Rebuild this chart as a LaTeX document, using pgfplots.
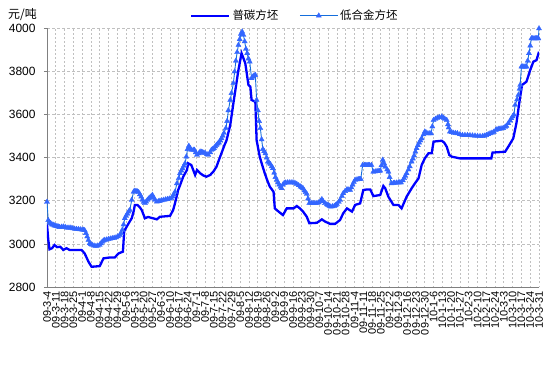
\documentclass[border=0pt]{standalone}
\usepackage{fontspec}
\setmainfont{Liberation Sans}
\newfontfamily\cjk{Noto Sans CJK SC}
\usepackage{pgfplots}
\pgfplotsset{compat=1.18}
\usepackage{pgfplotstable}
\definecolor{pblue}{RGB}{0,0,255}
\definecolor{lline}{RGB}{20,110,220}
\definecolor{lmark}{RGB}{51,102,255}
\definecolor{gridc}{RGB}{192,192,192}
\definecolor{axc}{RGB}{128,128,128}
\pgfplotsset{
  leglineA/.style={legend image code/.code={\draw[##1] (0bp,0bp) -- (38bp,0bp);}},
  leglineB/.style={legend image code/.code={\draw[##1,mark repeat=2,mark phase=2] plot coordinates {(0bp,0bp) (19bp,0bp) (38bp,0bp)};}},
}

\pgfplotstableread{
d v
0 3090
1 3020
2 2975
4 2980
6 2995
8 2985
10.5 2987
13 2972
15.5 2980
18 2972
22 2972
27.5 2972
30 2956
33 2918
35.5 2894
38 2895
42 2897
45 2933
50 2937
54 2937
57 2956
60.5 2964
61.5 3060
63.5 3080
65.5 3100
67.5 3119
69 3150
70 3181
72 3181
74 3170
75.5 3157
78 3119
80.5 3125
84.5 3119
87.5 3114
90 3126
94 3128
98 3130
100.5 3157
102 3189
104.5 3250
106.5 3280
108.5 3312
111.5 3343
112.5 3374
115 3366
118 3320
119.5 3343
122 3328
124.5 3318
127 3312
130 3320
132.5 3335
135 3358
137 3390
139 3421
141.5 3460
143 3480
146 3552
148.5 3653
150.5 3730
152.5 3807
155 3885
156.5 3862
158 3838
160.5 3738
162 3730
163 3668
166 3660
167 3482
169.5 3405
171.5 3365
173.5 3328
175.5 3295
177.5 3266
180.5 3242
181.5 3165
184.5 3150
188 3134
191 3165
196.5 3165
199 3176
201.5 3165
204 3150
207 3126
209 3096
212 3097
215 3098
219 3114
221.5 3104
225.5 3093
229.5 3093
233.5 3111
236 3142
239 3165
243 3150
245.5 3181
249.5 3188
252 3250
255 3253
257.5 3253
259 3235
260 3222
265.5 3227
268 3269
269.5 3258
272 3219
276 3181
280 3181
282.5 3165
286.5 3219
290.5 3258
293 3280
296 3304
298.5 3366
301 3397
304 3421
306.5 3421
308 3475
314.5 3479
316.5 3470
318.5 3451
320.5 3413
322.5 3405
329 3397
340 3397
354 3397
355 3424
360 3426
365 3428
367.5 3451
371.5 3490
374 3560
377 3683
378.5 3738
382 3753
385 3807
387.5 3846
390 3853
392 3892
}\tabP

\pgfplotstableread{
d v
0 3195
1 3110
2 3100
3 3095
4 3090
5 3088
6 3085
7 3084
8 3082
9 3080
10 3078
11.5 3079
13 3080
14.5 3078
16 3075
17.5 3075
19 3075
20.5 3072
22 3070
23.5 3069
25 3068
26.5 3067
28 3066
29 3065
30 3063
31 3050
32 3034
33 3018
34 3003
35 2998
36 2995
37.5 2992
39 2990
40.5 2992
42 2995
43 3002
44 3010
45 3015
46 3018
47.5 3020
49 3022
50.5 3024
52 3026
53.5 3028
55 3030
56.5 3035
58 3041
59 3050
60 3065
61 3090
62 3119
63 3130
64 3140
65 3150
66 3157
67.5 3204
69 3242
70 3246
71 3245
72 3243
73 3240
74 3230
75 3219
76 3205
77 3195
78 3189
79 3196
80 3204
81 3210
82 3215
83 3221
84 3227
85 3215
86 3205
87.5 3196
89 3198
90 3200
91.5 3202
93 3204
94.5 3206
96 3208
97.5 3210
99 3212
100 3220
101 3230
102 3242
103.5 3281
105 3305
106 3328
107 3340
108 3350
109 3362
110 3374
111 3405
112 3440
113 3455
114 3445
115 3436
116.5 3436
117.5 3436
118.5 3425
119.5 3413
121 3420
122 3428
123 3427
124 3425
125 3423
126 3421
127.5 3416
128.5 3413
130 3425
131 3436
132 3440
133 3444
134 3452
135 3459
136 3465
137 3470
138 3480
139 3490
140 3502
141 3515
142.5 3537
143.5 3570
144.5 3620
146 3668
147 3700
148.5 3746
149.5 3800
150.5 3850
151.5 3890
152.5 3923
153.5 3950
154.5 3975
155.5 3985
156.5 3970
157.5 3940
158.5 3905
159.5 3885
160.5 3860
161.5 3846
163 3769
164 3776
165 3782
166 3784
167 3668
168 3620
169 3570
170 3537
171 3485
172 3440
173 3430
174 3420
175 3400
176 3382
177 3376
178 3370
179 3360
180 3351
181 3330
182 3310
183 3297
184 3285
185 3275
186 3265
187 3258
188 3275
189 3282
190 3284
191.5 3285
193 3285
194.5 3285
196 3285
197.5 3283
199 3278
200.5 3272
202 3266
203 3262
204 3258
205 3248
206 3240
207 3232
208 3210
209 3189
210.5 3189
212 3189
213.5 3189
215 3189
216.5 3192
218 3200
219 3207
220 3198
221.5 3189
223 3183
224 3180
225 3176
226 3173
227.5 3174
229 3176
230 3180
231 3185
232.5 3195
233.5 3204
235 3222
236 3235
237.5 3245
239 3253
240 3252
241.5 3250
242.5 3262
243.5 3275
244.5 3287
245.5 3297
247 3299
248 3300
249 3300
250 3301
251.5 3366
253 3366
254 3366
255 3366
256 3366
257 3366
258.5 3366
260 3335
261.5 3336
263 3338
264.5 3339
265.5 3340
266.5 3365
267.5 3390
268.5 3375
269.5 3358
271 3345
272 3335
273 3310
274.5 3281
276 3282
277 3283
278.5 3284
280 3285
281 3285
282 3285
283.5 3295
284.5 3305
285.5 3316
286.5 3328
288 3345
289 3360
290.5 3382
291.5 3396
292.5 3410
293.5 3428
294.5 3444
295.5 3458
296.5 3470
297.5 3480
298.5 3490
300 3508
301 3521
302 3517
303.5 3513
305 3513
306 3513
307 3545
308 3575
309.5 3580
311 3585
312.5 3588
314.5 3591
316 3585
317 3580
318.5 3575
319.5 3555
320 3540
321 3521
322.5 3518
324 3515
325.5 3514
327 3513
329 3509
331 3505
333 3505
335 3505
337 3504
339 3503
341 3502
343 3501
345 3500
347 3500
348.5 3502
350 3505
351.5 3509
353 3513
354.5 3516
356 3520
357.5 3528
358.5 3532
360 3534
361 3535
362.5 3536
363.5 3537
365 3543
366 3548
367.5 3560
369 3572
370 3583
371 3592
372 3600
373 3645
374.5 3670
375.5 3691
376.5 3720
377 3738
378 3823
379 3823
380 3823
381 3823
382 3823
383 3850
384 3885
385 3920
386 3954
387 3954
388 3954
389 3954
390 3954
391 3954
391.5 3954
392 4000
}\tabL

\begin{document}
\begin{tikzpicture}
\useasboundingbox (0,0) rectangle (554bp,369bp);
\begin{axis}[
  at={(47bp,82bp)}, anchor=south west,
  scale only axis, width=492bp, height=258.5bp,
  xmin=0, xmax=392, ymin=2800, ymax=4000,
  xtick={0,7,...,392},
  xticklabels={09-3-4,09-3-11,09-3-18,09-3-25,09-4-1,09-4-8,09-4-15,09-4-22,09-4-29,09-5-6,09-5-13,09-5-20,09-5-27,09-6-3,09-6-10,09-6-17,09-6-24,09-7-1,09-7-8,09-7-15,09-7-22,09-7-29,09-8-5,09-8-12,09-8-19,09-8-26,09-9-2,09-9-9,09-9-16,09-9-23,09-9-30,09-10-7,09-10-14,09-10-21,09-10-28,09-11-4,09-11-11,09-11-18,09-11-25,09-12-2,09-12-9,09-12-16,09-12-23,09-12-30,10-1-6,10-1-13,10-1-20,10-1-27,10-2-3,10-2-10,10-2-17,10-2-24,10-3-3,10-3-10,10-3-17,10-3-24,10-3-31},
  ytick={2800,3000,...,4000},
  axis x line*=bottom, axis y line*=left,
  axis line style={draw=axc, line width=0.9bp},
  grid=major,
  x grid style={gridc, dash pattern=on 1.5bp off 2.5bp, line width=0.8bp},
  y grid style={gridc, dash pattern=on 3bp off 2bp, line width=0.8bp},
  xtick style={draw=none},
  ytick style={draw=axc, line width=0.8bp},
  tick align=outside, major tick length=3bp,
  xticklabel style={rotate=90, anchor=east, font=\fontsize{11}{11}\selectfont, inner sep=1bp},
  yticklabel style={font=\fontsize{12}{12}\selectfont, xshift=-5bp},
  /pgf/number format/assume math mode=true,
  /pgf/number format/1000 sep={},
  legend columns=2,
  legend style={draw=none, fill=none, at={(0.2907,1.0495)}, anchor=west,
    font=\cjk\fontsize{11.5}{12}\selectfont, inner sep=0pt,
    /tikz/every even column/.append style={column sep=19bp}},
  legend cell align=left,
]
\addplot[pblue, line width=2.3bp, no markers, leglineA]
  table[x=d,y=v]{\tabP};
\addlegendentry{普碳方坯}
\addplot[lline, line width=0.9bp, mark=triangle*, mark size=3bp,
  mark options={fill=lmark, draw=lmark, solid, line width=0.3bp}, leglineB]
  table[x=d,y=v]{\tabL};
\addlegendentry{低合金方坯}
\end{axis}
\node[anchor=west, font=\cjk\fontsize{12}{12}\selectfont, inner sep=0pt] at (8bp,354bp) {元/吨};
\end{tikzpicture}
\end{document}
